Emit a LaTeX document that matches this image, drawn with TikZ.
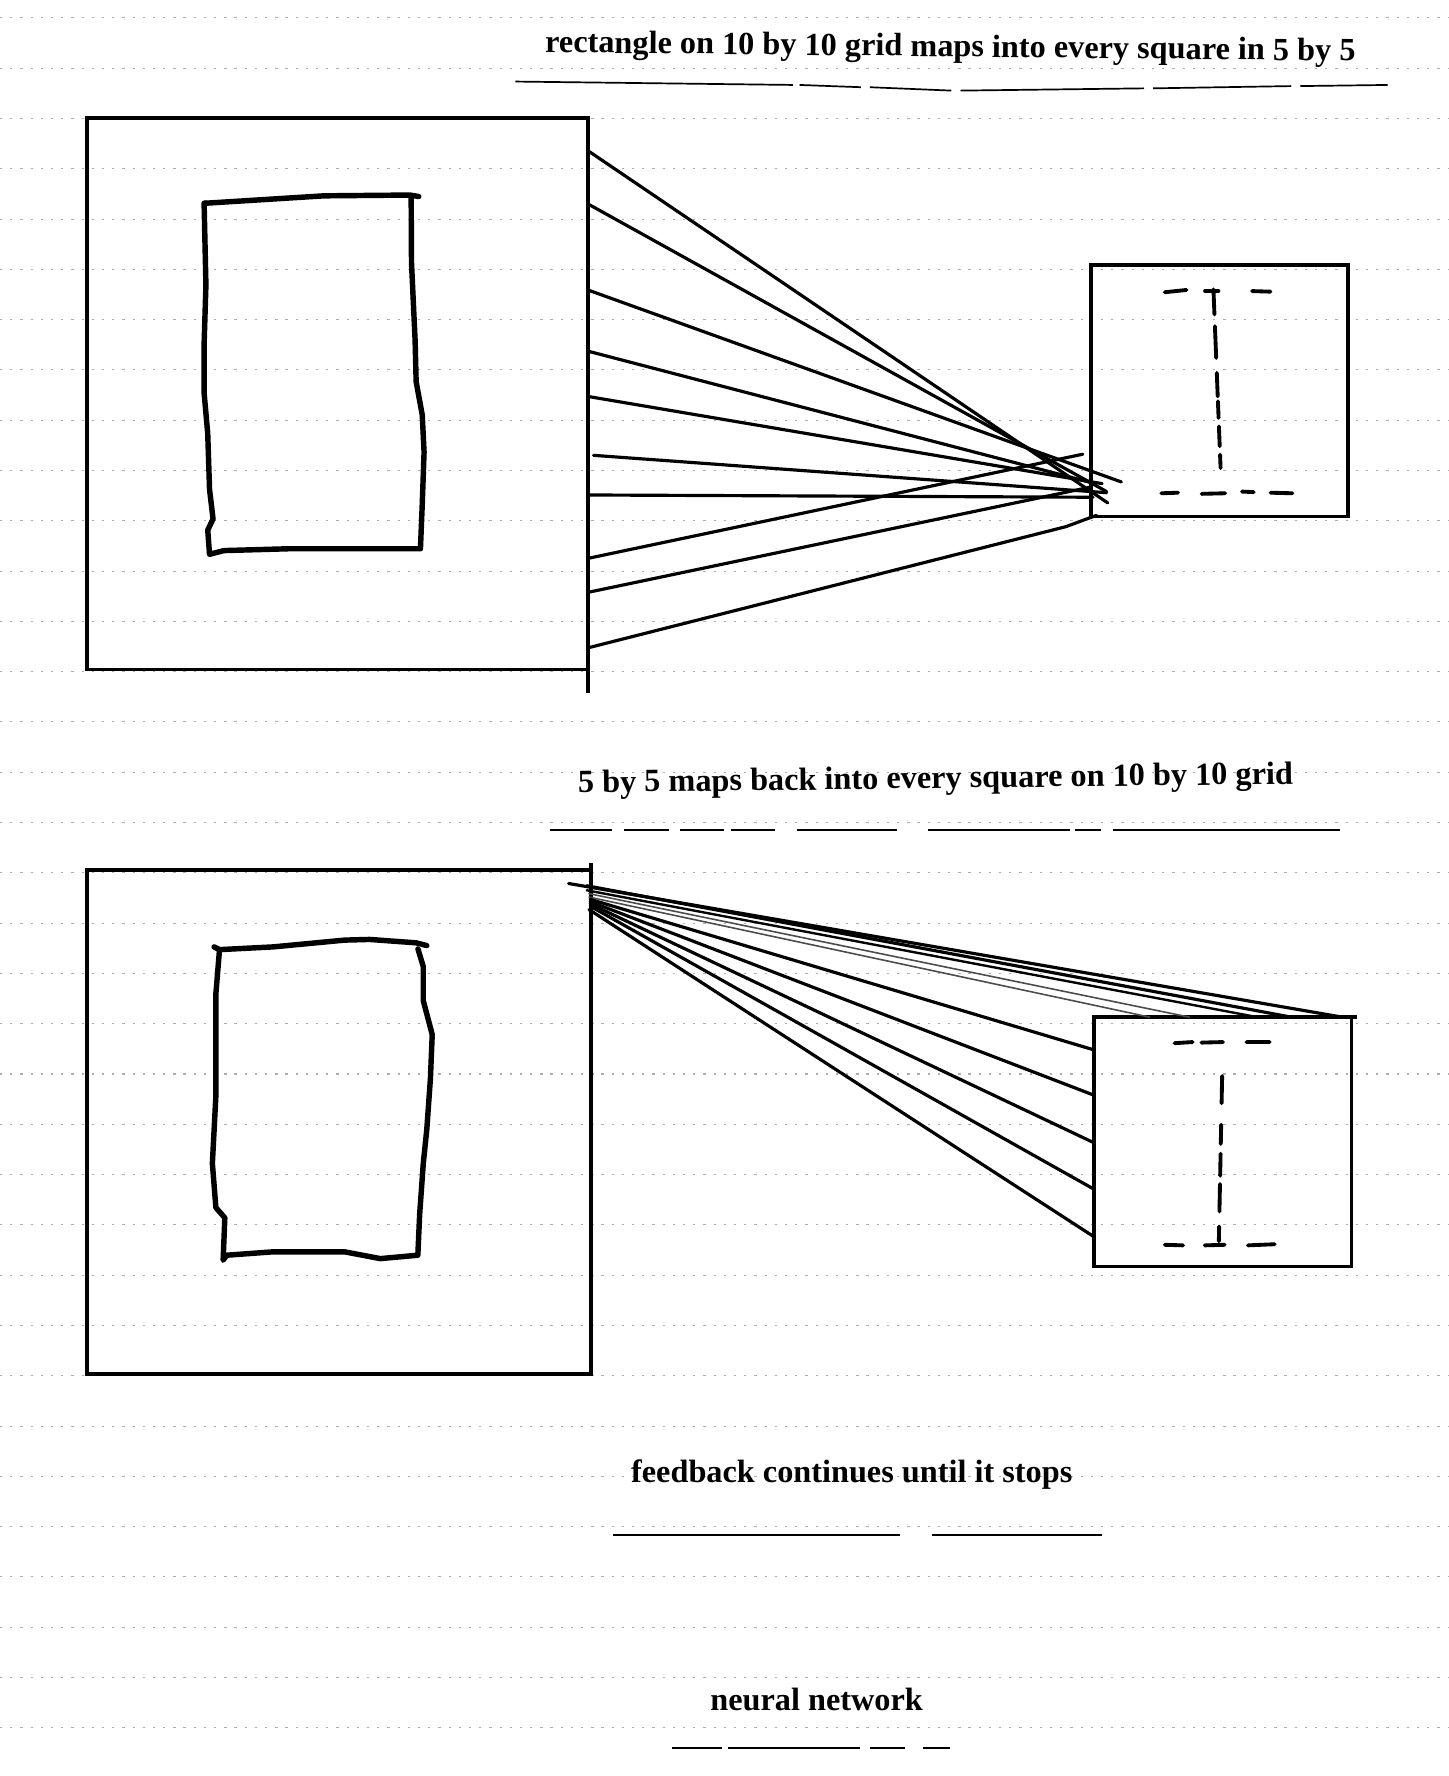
\documentclass[tikz,border=0pt]{standalone}
\usepackage{fontspec}
\setmainfont{Liberation Serif}
\begin{document}
\begin{tikzpicture}[x=1pt,y=-1pt,
  frame/.style={line width=3.1pt, line join=miter},
  sketch/.style={line width=4.8pt, line join=round, line cap=round},
  ray/.style={line width=2.8pt, line cap=round},
  fineray/.style={line width=1.4pt, line cap=round, black!70},
  dsh/.style={line width=3.4pt, line cap=round},
  rule/.style={black!32, line width=0.9pt, dash pattern=on 2pt off 7pt},
  uline/.style={line width=1.5pt},
  caption/.style={font=\fontsize{28.5}{32}\selectfont\bfseries, inner sep=0pt, anchor=base}]
\useasboundingbox (0,0) rectangle (1279,1568);
\fill[white] (0,0) rectangle (1279,1568);
% ruled paper
\foreach \k in {0,...,34} \draw[rule] (0,{15.8+44.4*\k}) -- (1279,{15.8+44.4*\k});

% captions
\node[caption, rotate=-0.6] (cap1) at (839,50) {rectangle on 10 by 10 grid maps into every square in 5 by 5};
\node[caption, rotate=0.7] (cap2) at (826,696) {5 by 5 maps back into every square on 10 by 10 grid};
\node[caption] (cap3) at (752,1309) {feedback continues until it stops};
\node[caption] (cap4) at (721,1510) {neural network};

% underlines
\draw[uline] (455,72)--(700,75) (706,75)--(760,77) (768,77)--(840,80) (848,80)--(1010,78) (1018,78)--(1140,76) (1148,76)--(1225,75);
\draw[uline] (486,733)--(540,733) (551,733)--(591,733) (600,733)--(639,733) (645,733)--(684,733) (704,733)--(792,733) (819,733)--(945,733) (949,733)--(972,733) (983,733)--(1183,733);
\draw[uline] (541,1355)--(795,1355) (823,1355)--(973,1355);
\draw[uline] (593,1543)--(637,1543) (643,1543)--(759,1543) (768,1543)--(799,1543) (815,1543)--(839,1543);

% ===== top section =====
\draw[frame] (77,104) rectangle (519,591);
\draw[frame] (519,591) -- (519,612);
\draw[sketch] (181.8,179.4) -- (286,172.9) -- (361.8,172.2) -- (369.7,173.5);
\draw[sketch] (363,173) -- (363.3,231.9) -- (364.9,266.4) -- (366.5,300.8) -- (367.4,336.9) -- (372.8,366.4) -- (374.4,399.2) -- (372.8,445.1) -- (371.2,484.5) -- (254.4,484.5) -- (197.6,486.1) -- (185,489.4) -- (183.4,468) -- (188.1,458.2) -- (185,432) -- (183.4,382.8) -- (180.2,346.7) -- (180.2,304) -- (181.8,251.6) -- (180.2,179.4) -- (181.8,179.4);

\draw[frame] (963,234) rectangle (1190,456);
\draw[dsh] (1028.3,258) -- (1047.6,256);
\draw[dsh] (1063.9,257) -- (1075.7,257);
\draw[dsh] (1105.4,257) -- (1121.7,257.5);
\foreach \a/\b in {255.5/277.6, 288/316, 329.2/349.9, 354.3/369, 376.4/394, 401.4/413.2}
  \draw[dsh] ({1071.3+(\a-255)*0.04},\a) -- ({1071.3+(\b-255)*0.04},\b);
\draw[dsh] (1025.3,435.5)--(1040.1,435) (1060.9,436)--(1081.7,435.5) (1096.5,434)--(1106.9,434.5) (1121.7,435)--(1141,435.5);

% top fan
\coordinate (s1) at (519,133);  \coordinate (e1) at (978,444);
\coordinate (s2) at (519,180);  \coordinate (e2) at (977,434);
\coordinate (s3) at (519,256);  \coordinate (e3) at (990,425.5);
\coordinate (s4) at (519,310);  \coordinate (e4) at (967,427);
\coordinate (s5) at (519,350);  \coordinate (e5) at (973,427);
\coordinate (s6) at (524,402);  \coordinate (e6) at (977,435);
\coordinate (s7) at (519,437);  \coordinate (e7) at (965,439);
\coordinate (s8) at (519,493);  \coordinate (e8) at (956,401);
\coordinate (s9) at (519,523);  \coordinate (e9) at (963,430);
\coordinate (s10) at (519,572); \coordinate (m10) at (941,465); \coordinate (e10) at (968,455);
\foreach \i in {1,...,9} \draw[ray] (s\i) -- (e\i);
\draw[ray, line join=round] (s10) -- (m10) -- (e10);

% ===== bottom section =====
\draw[frame] (77,768) rectangle (522,1213);
\draw[frame] (522,770) -- (522,762);
\draw[sketch] (189,836) -- (193.8,838.4) -- (241.1,836) -- (304.2,830) -- (326.3,829.4) -- (367.4,832.4) -- (376.8,834.8);
\draw[sketch] (369,837.8) -- (373.7,853.4) -- (373.7,883.4) -- (381.6,913.4) -- (380,952.3) -- (376.8,997.3) -- (373.7,1027.2) -- (370.5,1072.2) -- (368.9,1108.2) -- (335.8,1111.2) -- (304.2,1105.2) -- (241.1,1105.2) -- (200.1,1108.2) -- (197,1112.6) -- (198.5,1075.2) -- (190.6,1066.2) -- (187.5,1027.2) -- (190.6,967.3) -- (190.6,877.4) -- (193.8,838.4);

\draw[frame] (966,898) rectangle (1193,1118);
\draw[frame] (1193,898) -- (1198,898);
\draw[dsh] (1037,921)--(1053,920) (1060.7,920.5)--(1079.8,920) (1100.4,920)--(1121,920);
\foreach \a/\b in {950/974, 993/1010, 1018.6/1038, 1045.4/1069.6, 1082.8/1096}
  \draw[dsh] ({1079-(\a-950)*0.02},\a) -- ({1079-(\b-950)*0.02},\b);
\draw[dsh] (1028.3,1099)--(1044.5,1099.5) (1063.6,1099.5)--(1081.3,1099) (1101.8,1099.5)--(1125.4,1098.5);

% bottom fan
\coordinate (oa) at (502,780); \coordinate (fa) at (1185,898);
\coordinate (ob) at (518,782); \coordinate (fb) at (1140,898);
\coordinate (oc) at (518,786); \coordinate (fc) at (1110,898);
\coordinate (od) at (520,789); \coordinate (fd) at (1050,898);
\coordinate (oe) at (520,792); \coordinate (fe) at (1015,898);
\coordinate (of) at (521,794); \coordinate (ff) at (966,927);
\coordinate (og) at (521,796); \coordinate (fg) at (966,967);
\coordinate (oh) at (521,798); \coordinate (fh) at (966,1009);
\coordinate (oi) at (521,800); \coordinate (fi) at (966,1050);
\coordinate (oj) at (520,803); \coordinate (fj) at (966,1092);
\draw[ray] (oa) -- (fa);
\draw[ray] (ob) -- (fb);
\draw[ray, line width=2.1pt] (oc) -- (fc);
\draw[fineray] (od) -- (fd);
\draw[fineray] (oe) -- (fe);
\foreach \i in {f,g,h,i,j} \draw[ray] (o\i) -- (f\i);
\end{tikzpicture}
\end{document}
